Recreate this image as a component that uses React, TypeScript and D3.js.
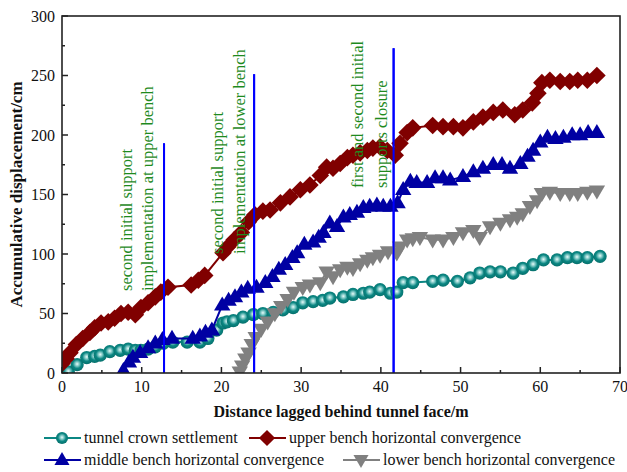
import React from "react";
import * as d3 from "d3";

const xTicks = [0, 10, 20, 30, 40, 50, 60, 70];
const yTicks = [0, 50, 100, 150, 200, 250, 300];

const crownX = [0.8, 1.9, 3.1, 4.1, 4.8, 6.0, 7.3, 8.3, 9.2, 9.9, 10.8, 11.7, 12.7, 13.9, 15.7, 17.3, 18.3, 19.4, 20.2, 20.7, 21.5, 22.7, 24.0, 25.2, 26.5, 27.7, 29.0, 30.2, 31.5, 32.7, 33.6, 35.3, 36.5, 37.8, 38.6, 39.9, 41.2, 42.0, 42.8, 44.0, 46.5, 47.8, 49.6, 51.2, 52.4, 53.7, 55.0, 56.6, 57.8, 59.1, 60.4, 62.1, 63.4, 64.6, 65.9, 67.5];
const crownY = [1, 7, 13, 14, 15, 18, 19, 20, 19, 19, 20, 22, 25, 26, 26, 26, 29, 36, 42, 43, 44, 47, 49, 50, 51, 53, 55, 59, 60, 61, 63, 64, 66, 67, 68, 70, 67, 68, 76, 76, 77, 78, 77, 80, 84, 85, 85, 84, 88, 91, 95, 95, 97, 97, 97, 98];

const upperX = [0, 0.5, 1.0, 1.8, 2.6, 3.5, 4.1, 4.9, 5.8, 6.6, 7.4, 8.3, 9.2, 9.9, 10.8, 11.7, 12.4, 13.3, 16.2, 17.1, 17.9, 20.2, 20.8, 21.6, 22.5, 23.4, 24.2, 25.2, 26.1, 27.4, 28.6, 29.9, 31.1, 32.4, 33.2, 34.0, 34.9, 35.8, 36.5, 37.4, 38.3, 39.0, 39.9, 40.8, 41.8, 42.4, 43.3, 44.0, 46.5, 47.8, 49.1, 50.3, 51.6, 52.8, 54.1, 55.3, 56.8, 57.8, 59.0, 59.7, 60.2, 61.2, 62.5, 63.7, 64.7, 65.9, 67.1];
const upperY = [8, 12, 17, 24, 29, 34, 38, 42, 43, 46, 50, 51, 49, 55, 59, 64, 68, 72, 74, 78, 82, 101, 106, 112, 118, 127, 133, 136, 137, 143, 148, 154, 158, 166, 173, 172, 176, 181, 183, 185, 187, 189, 190, 187, 183, 193, 202, 206, 208, 207, 207, 206, 211, 215, 219, 221, 217, 221, 227, 235, 244, 246, 245, 245, 246, 246, 250];

const middleX = [7.7, 8.4, 8.9, 9.8, 10.8, 11.7, 12.6, 13.8, 16.4, 17.3, 18.0, 18.8, 20.1, 20.9, 21.7, 22.5, 23.3, 24.4, 25.5, 26.4, 27.2, 28.0, 28.9, 29.5, 30.4, 31.5, 32.2, 32.8, 33.6, 34.5, 35.3, 36.1, 37.0, 37.8, 38.6, 39.5, 40.3, 41.2, 42.1, 42.8, 43.7, 44.5, 45.8, 46.8, 47.8, 48.7, 50.3, 51.6, 52.8, 54.1, 55.2, 56.2, 57.5, 58.4, 59.1, 60.0, 60.9, 61.9, 62.9, 64.0, 65.0, 66.0, 67.1];
const middleY = [2, 9, 13, 17, 21, 25, 28, 29, 29, 31, 34, 36, 57, 61, 64, 68, 71, 72, 76, 81, 87, 91, 97, 101, 108, 110, 114, 118, 126, 123, 131, 133, 135, 139, 140, 141, 140, 140, 143, 154, 161, 160, 160, 164, 164, 162, 165, 169, 172, 175, 175, 172, 176, 182, 187, 194, 198, 197, 198, 200, 200, 202, 202];

const lowerX = [22.3, 22.6, 23.0, 23.4, 23.8, 24.3, 25.0, 25.8, 26.7, 27.5, 28.3, 29.1, 30.2, 31.1, 32.4, 33.2, 34.0, 34.9, 35.8, 36.5, 37.4, 38.3, 39.0, 39.9, 40.9, 42.0, 42.4, 43.3, 44.0, 44.9, 46.5, 47.8, 49.1, 50.3, 51.6, 52.4, 53.7, 55.0, 56.2, 57.1, 57.8, 58.7, 59.6, 60.2, 61.2, 62.5, 63.7, 64.7, 65.9, 67.1];
const lowerY = [1, 6, 12, 17, 24, 30, 37, 43, 50, 56, 62, 68, 72, 74, 76, 85, 81, 87, 89, 88, 92, 95, 97, 99, 102, 101, 106, 112, 113, 114, 112, 112, 114, 118, 120, 114, 123, 126, 129, 131, 134, 140, 145, 151, 152, 151, 151, 151, 152, 153];

const eventX = [12.8, 24.1, 41.6];
const eventTop = [193, 251, 273];
const eventLine1 = ["second initial support", "second initial support", "first and second initial"];
const eventLine2 = ["implementation at upper bench", "implementation at lower bench", "supports closure"];

const legendLabels = [
  "tunnel crown settlement",
  "upper bench horizontal convergence",
  "middle bench horizontal convergence",
  "lower bench horizontal convergence",
];

const W = 627, H = 472;
const x = d3.scaleLinear().domain([0, 70]).range([62, 620]);
const y = d3.scaleLinear().domain([0, 300]).range([373, 16]);

const FONT = "'Liberation Serif', 'Times New Roman', serif";

const C_CROWN = "#0b8783";
const C_UPPER = "#800000";
const C_MIDDLE = "#0000a3";
const C_LOWER = "#808080";

type Kind = "circle" | "diamond" | "up" | "down";

function Marker({ kind, cx, cy, color, k = 1 }: { kind: Kind; cx: number; cy: number; color: string; k?: number }) {
  if (kind === "circle") {
    return <circle cx={cx} cy={cy} r={6.6 * k} fill="url(#sphere)" />;
  }
  if (kind === "diamond") {
    const s = 8.8 * k;
    return <path d={`M${cx},${cy - s}L${cx + s},${cy}L${cx},${cy + s}L${cx - s},${cy}Z`} fill={color} />;
  }
  const w = 8.2 * k, h = 14 * k;
  if (kind === "up") {
    return <path d={`M${cx},${cy - h * 0.62}L${cx + w},${cy + h * 0.38}L${cx - w},${cy + h * 0.38}Z`} fill={color} />;
  }
  return <path d={`M${cx},${cy + h * 0.62}L${cx + w},${cy - h * 0.38}L${cx - w},${cy - h * 0.38}Z`} fill={color} />;
}

function Series({ xs, ys, color, kind }: { xs: number[]; ys: number[]; color: string; kind: Kind }) {
  const pts = xs.map((v, i) => [v, ys[i]] as [number, number]);
  const line = d3.line<[number, number]>().x((d) => x(d[0])).y((d) => y(d[1]));
  return (
    <g>
      <path d={line(pts) || ""} fill="none" stroke={color} strokeWidth={2} />
      {pts.map((p, i) => (
        <Marker key={i} kind={kind} cx={x(p[0])} cy={y(p[1])} color={color} />
      ))}
    </g>
  );
}

function LegendItem({ x0, yy, color, kind, label }: { x0: number; yy: number; color: string; kind: Kind; label: string }) {
  return (
    <g>
      <line x1={x0} x2={x0 + 37} y1={yy} y2={yy} stroke={color} strokeWidth={2} />
      <Marker kind={kind} cx={x0 + 18} cy={yy} color={color} k={0.92} />
      <text x={x0 + 40} y={yy + 5} fontSize={16} fontFamily={FONT} fill="#111">
        {label}
      </text>
    </g>
  );
}

export default function App() {
  const xMinor = d3.range(5, 70, 10);
  const yMinor = d3.range(25, 300, 50);
  return (
    <svg width={W} height={H} style={{ position: "absolute", left: 0, top: 0, background: "#fff" }}>
      <defs>
        <radialGradient id="sphere" cx="50%" cy="45%" r="55%">
          <stop offset="0%" stopColor="#e8fbfa" />
          <stop offset="30%" stopColor="#7cc6c3" />
          <stop offset="60%" stopColor={C_CROWN} />
          <stop offset="100%" stopColor="#06706c" />
        </radialGradient>
        <clipPath id="plot">
          <rect x={62} y={16} width={558} height={357} />
        </clipPath>
      </defs>

      {eventX.map((ev, i) => (
        <line key={i} x1={x(ev)} x2={x(ev)} y1={y(0)} y2={y(eventTop[i])} stroke="#0000ff" strokeWidth={2} />
      ))}

      <g clipPath="url(#plot)">
        <Series xs={crownX} ys={crownY} color={C_CROWN} kind="circle" />
        <Series xs={upperX} ys={upperY} color={C_UPPER} kind="diamond" />
        <Series xs={middleX} ys={middleY} color={C_MIDDLE} kind="up" />
        <Series xs={lowerX} ys={lowerY} color={C_LOWER} kind="down" />
      </g>

      {eventX.map((ev, i) => (
        <line key={"f" + i} x1={x(ev)} x2={x(ev)} y1={y(0)} y2={y(eventTop[i])} stroke="#0000ff" strokeWidth={2} />
      ))}

      {[
        { bx1: 132, bx2: 153, sy: 291 },
        { bx1: 223, bx2: 245, sy: 254 },
        { bx1: 363, bx2: 387, sy: 188 },
      ].map((a, i) => (
        <g key={i} fontFamily={FONT} fontSize={16.5} fill="#1e8a1e">
          <text transform={`translate(${a.bx1},${a.sy}) rotate(-90)`}>{eventLine1[i]}</text>
          <text transform={`translate(${a.bx2},${a.sy}) rotate(-90)`}>{eventLine2[i]}</text>
        </g>
      ))}

      <rect x={62} y={16} width={558} height={357} fill="none" stroke="#222" strokeWidth={1.6} />

      {xTicks.map((t) => (
        <g key={t}>
          <line x1={x(t)} x2={x(t)} y1={373} y2={367} stroke="#222" strokeWidth={1.5} />
          <text x={x(t)} y={392} textAnchor="middle" fontSize={16} fontFamily={FONT} fill="#111">
            {t}
          </text>
        </g>
      ))}
      {xMinor.map((t) => (
        <line key={t} x1={x(t)} x2={x(t)} y1={373} y2={370} stroke="#222" strokeWidth={1.5} />
      ))}
      {yTicks.map((t) => (
        <g key={t}>
          <line x1={62} x2={68} y1={y(t)} y2={y(t)} stroke="#222" strokeWidth={1.5} />
          <text x={55} y={y(t) + 5.5} textAnchor="end" fontSize={16} fontFamily={FONT} fill="#111">
            {t}
          </text>
        </g>
      ))}
      {yMinor.map((t) => (
        <line key={t} x1={62} x2={65} y1={y(t)} y2={y(t)} stroke="#222" strokeWidth={1.5} />
      ))}

      <text
        transform={`translate(22,${(16 + 373) / 2}) rotate(-90)`}
        textAnchor="middle"
        fontSize={17}
        fontWeight="bold"
        fontFamily={FONT}
        fill="#111"
      >
        Accumulative displacement/cm
      </text>
      <text x={341} y={417} textAnchor="middle" fontSize={16} fontWeight="bold" fontFamily={FONT} fill="#111">
        Distance lagged behind tunnel face/m
      </text>

      <LegendItem x0={44} yy={438} color={C_CROWN} kind="circle" label={legendLabels[0]} />
      <LegendItem x0={249} yy={438} color={C_UPPER} kind="diamond" label={legendLabels[1]} />
      <LegendItem x0={44} yy={460} color={C_MIDDLE} kind="up" label={legendLabels[2]} />
      <LegendItem x0={343} yy={460} color={C_LOWER} kind="down" label={legendLabels[3]} />
    </svg>
  );
}
